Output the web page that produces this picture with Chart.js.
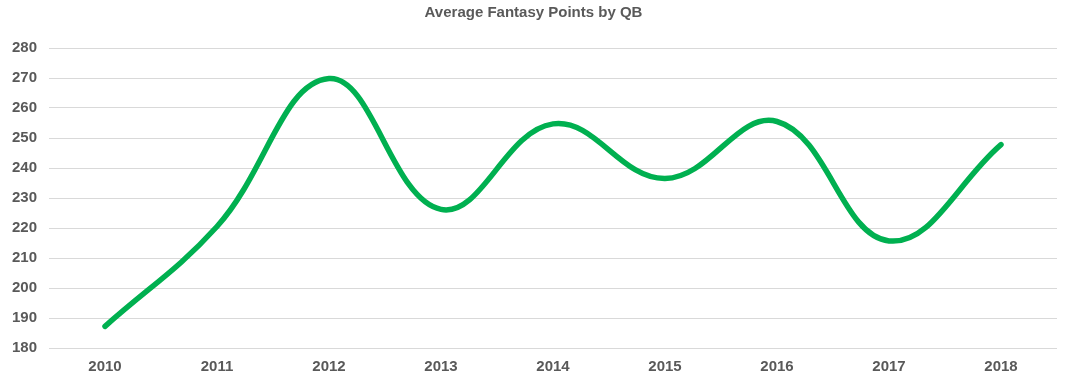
<!DOCTYPE html>
<html>
<head>
<meta charset="utf-8">
<script src="https://cdn.jsdelivr.net/npm/chart.js@4"></script>
<style>
html,body{margin:0;padding:0;background:#fff;}
#wrap{width:1067px;height:382px;position:relative;}
</style>
</head>
<body>
<div id="wrap"><canvas id="c" width="1067" height="382"></canvas></div>
<script>
const title = "Average Fantasy Points by QB";
const years = ["2010","2011","2012","2013","2014","2015","2016","2017","2018"];
const avgPoints = [187.2, 220.5, 269.8, 226.2, 254.7, 236.5, 255.5, 215.7, 247.8];
const yMin = 180, yMax = 280, yStep = 10;

const FONT = "'Liberation Sans', Arial, sans-serif";
const GREY = "#595959";

new Chart(document.getElementById('c'), {
  type: 'line',
  data: {
    labels: years,
    datasets: [{
      label: 'Average Fantasy Points',
      data: avgPoints,
      borderColor: '#00B050',
      borderWidth: 5.5,
      tension: 0.4,
      pointRadius: 0,
      borderCapStyle: 'round',
      borderJoinStyle: 'round',
      fill: false
    }]
  },
  options: {
    responsive: false,
    animation: false,
    layout: { padding: { left: 10, right: 10, top: 0, bottom: 0 } },
    plugins: {
      legend: { display: false },
      tooltip: { enabled: false },
      title: {
        display: true,
        text: title,
        color: GREY,
        font: { family: FONT, size: 15, weight: 'bold' },
        padding: { top: 4, bottom: 26 }
      }
    },
    scales: {
      x: {
        offset: true,
        grid: { display: false, offset: true },
        border: { display: false },
        ticks: { color: GREY, font: { family: FONT, size: 15, weight: 'bold' }, padding: 2, maxRotation: 0 },
        afterFit: s => { s.height = 34; }
      },
      y: {
        min: yMin, max: yMax,
        grid: { color: '#d9d9d9', lineWidth: 1, drawTicks: false },
        border: { display: false },
        ticks: { stepSize: yStep, color: GREY, font: { family: FONT, size: 15, weight: 'bold' }, padding: 12 },
        afterFit: s => { s.width = 39; }
      }
    }
  }
});
</script>
</body>
</html>
